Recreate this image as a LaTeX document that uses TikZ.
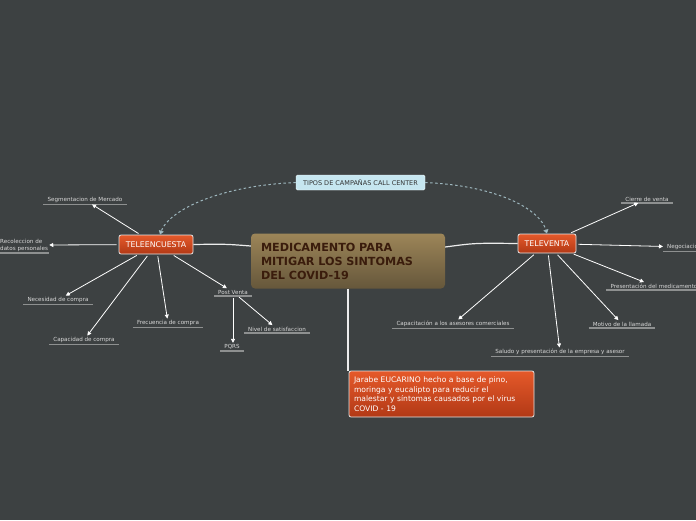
\documentclass[tikz,border=0pt]{standalone}
\usepackage{fontspec}
\setmainfont{DejaVu Sans}
\usetikzlibrary{arrows.meta}
\definecolor{bg}{HTML}{3D4142}
\definecolor{maintop}{HTML}{9C8558}
\definecolor{mainbot}{HTML}{66573B}
\definecolor{maintext}{HTML}{3A1C0C}
\definecolor{hubtop}{HTML}{E5592A}
\definecolor{hubbot}{HTML}{B23916}
\definecolor{leaftext}{HTML}{D8D8D8}
\definecolor{ulgray}{HTML}{8E9090}
\definecolor{tiposfill}{HTML}{C6E6F0}
\definecolor{dashcol}{HTML}{9DB6BD}
\begin{document}
\begin{tikzpicture}[x=1pt, y=-1pt,
    main/.style={rounded corners=4pt, top color=maintop, bottom color=mainbot,
      text=maintext, font=\bfseries\fontsize{11.2}{14}\selectfont,
      text width=174pt, inner xsep=10pt, minimum height=55pt, align=left},
    hub/.style={draw=white!80!gray, line width=0.8pt, rounded corners=2pt,
      top color=hubtop, bottom color=hubbot, text=white,
      font=\fontsize{7.8}{9}\selectfont, minimum height=19pt, inner xsep=4pt},
    uline/.style={draw=ulgray, line width=1.5pt},
    leaf/.style={font=\fontsize{5.6}{7}\selectfont, text=leaftext,
      inner xsep=4pt, inner ysep=1.5pt,
      append after command={(\tikzlastnode.south west) edge[uline] (\tikzlastnode.south east)}},
    arr/.style={draw=white, line width=0.8pt, shorten <=2pt,
      -{Triangle[length=4pt,width=4pt]}},
    conn/.style={draw=white!85!gray, line width=1.2pt},
    campline/.style={draw=dashcol, line width=1pt, dash pattern=on 2.5pt off 2.5pt,
      -{Triangle[length=4pt,width=5pt,fill=tiposfill]}}
  ]
  \fill[bg] (0,0) rectangle (696,520);
  \useasboundingbox (0,0) rectangle (696,520);

  % main topic and hubs
  \node[main] (med) at (348,261) {MEDICAMENTO PARA\\MITIGAR LOS SINTOMAS\\DEL COVID-19};
  \node[hub, minimum width=74pt] (teleenc) at (156,244.5) {TELEENCUESTA};
  \node[hub, minimum width=58pt] (telev) at (547,243.5) {TELEVENTA};
  \node[draw=white!70!tiposfill, fill=tiposfill, rounded corners=1.5pt, text=black!80,
    font=\fontsize{6.5}{8}\selectfont, minimum width=129pt, minimum height=15pt]
    (tipos) at (360.5,182.5) {TIPOS DE CAMPAÑAS CALL CENTER};
  \node[hub, font=\fontsize{7.6}{9.6}\selectfont, text width=175pt, align=left,
    minimum height=46pt, inner xsep=5pt] (jarabe) at (441.5,394)
    {Jarabe EUCARINO hecho a base de pino,\\moringa y eucalipto para reducir el\\malestar y síntomas causados por el virus\\COVID - 19};

  \draw[conn] ([yshift=15pt]med.west) .. controls (225,244) .. (teleenc.east);
  \draw[conn] ([yshift=14pt]med.east) .. controls (475,243) .. (telev.west);
  \draw[conn] (med.south) -- (med.south |- jarabe.north);

  \draw[campline] (tipos.west) .. controls (215,186) and (168,212) .. ([xshift=4pt]teleenc.north);
  \draw[campline] (tipos.east) .. controls (500,186) and (540,210) .. (telev.north);

  % TELEENCUESTA branch
  \node[leaf] (segm) at (85,200) {Segmentacion de Mercado};
  \node[leaf, align=left, inner xsep=1pt, anchor=south west] (recol) at (-1,253) {Recoleccion de\\datos personales};
  \node[leaf] (neces) at (58,300) {Necesidad de compra};
  \node[leaf] (capac) at (84,340) {Capacidad de compra};
  \node[leaf] (frec) at (168,323) {Frecuencia de compra};
  \node[leaf] (post) at (233,292) {Post Venta};
  \node[leaf] (pqrs) at (232,347) {PQRS};
  \node[leaf] (nivel) at (277,329) {Nivel de satisfaccion};
  \foreach \n in {segm,recol,neces,capac,frec,post}
    \draw[arr] (teleenc) -- (\n);
  \draw[arr] (post.south) -- (post.south |- pqrs.north);
  \draw[arr] (post) -- (nivel);

  % TELEVENTA branch
  \node[leaf] (cierre) at (647,199) {Cierre de venta};
  \node[leaf, anchor=west] (negoc) at (663,247) {Negociación};
  \node[leaf] (pres) at (654,286) {Presentación del medicamento};
  \node[leaf] (motivo) at (622,324) {Motivo de la llamada};
  \node[leaf] (saludo) at (560,352) {Saludo y presentación de la empresa y asesor};
  \node[leaf] (capacit) at (453,324) {Capacitación a los asesores comerciales};
  \foreach \n in {cierre,negoc,pres,motivo,saludo,capacit}
    \draw[arr] (telev) -- (\n);
\end{tikzpicture}
\end{document}
